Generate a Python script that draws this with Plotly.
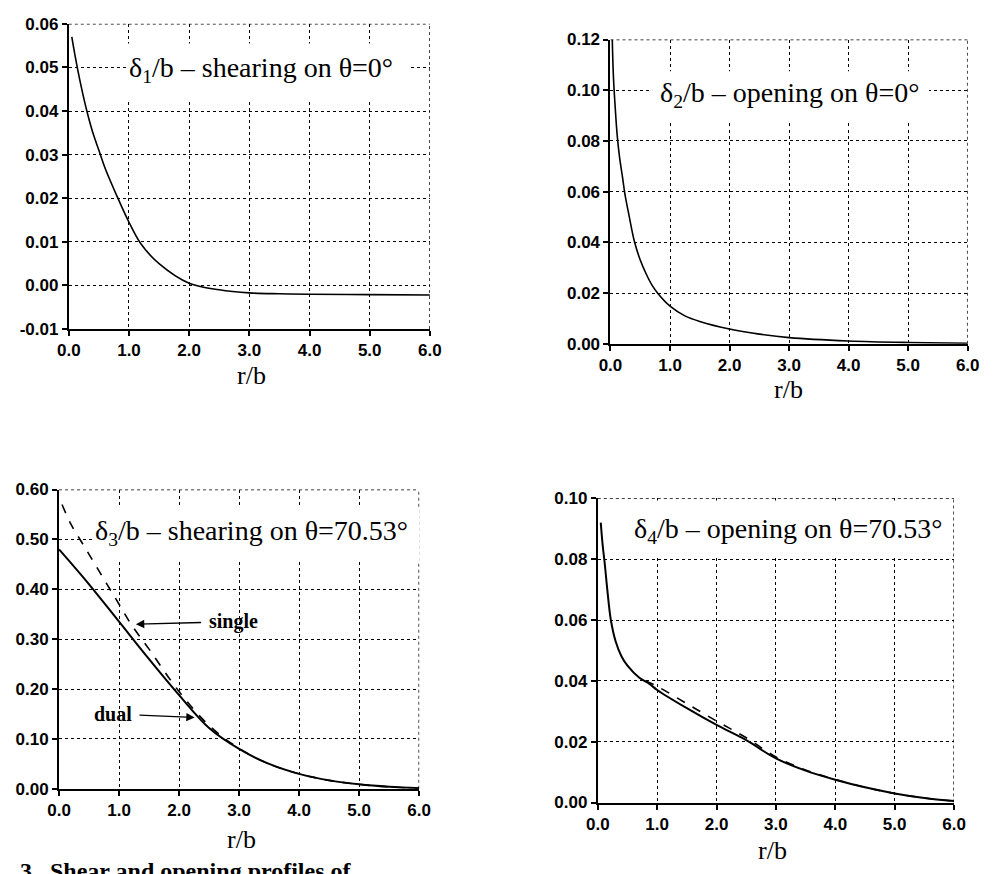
import plotly.graph_objects as go

# ---------------- data ----------------
r1 = [0.05, 0.1, 0.2, 0.3, 0.4, 0.5, 0.6, 0.8, 1.0, 1.2, 1.5, 2.0, 2.5, 3.0, 3.5, 4.0, 5.0, 6.0]
d1 = [0.057, 0.053, 0.046, 0.040, 0.035, 0.031, 0.027, 0.0205, 0.0145, 0.0095, 0.005, 0.0005,
      -0.001, -0.0017, -0.0019, -0.002, -0.0021, -0.0022]

r2 = [0.03, 0.05, 0.08, 0.11, 0.15, 0.2, 0.25, 0.3, 0.4, 0.5, 0.6, 0.7, 0.8, 1.0, 1.25, 1.5,
      2.0, 2.5, 3.0, 4.0, 5.0, 6.0]
d2 = [0.12, 0.105, 0.093, 0.083, 0.074, 0.066, 0.058, 0.052, 0.0405, 0.033, 0.0275, 0.023,
      0.0197, 0.0148, 0.011, 0.0088, 0.0058, 0.0038, 0.0024, 0.0011, 0.0005, 0.0002]

r3_dual = [0.0, 0.5, 1.0, 1.5, 2.0, 2.5, 3.0, 3.5, 4.0, 4.5, 5.0, 5.5, 6.0]
d3_dual = [0.48, 0.41, 0.335, 0.26, 0.188, 0.122, 0.08, 0.05, 0.03, 0.017, 0.009, 0.004, 0.001]
r3_single = [0.05, 0.2, 0.4, 0.6, 0.8, 1.0, 1.2, 1.5, 2.0, 2.5, 3.0, 3.5, 4.0, 4.5, 5.0, 5.5, 6.0]
d3_single = [0.57, 0.53, 0.49, 0.45, 0.41, 0.37, 0.33, 0.28, 0.195, 0.127, 0.081, 0.05, 0.03,
             0.017, 0.009, 0.004, 0.001]

r4_dual = [0.05, 0.08, 0.12, 0.16, 0.22, 0.3, 0.4, 0.5, 0.7, 0.87, 1.0, 1.5, 2.0, 2.5, 3.0,
           3.5, 4.0, 4.5, 5.0, 5.5, 6.0]
d4_dual = [0.092, 0.085, 0.078, 0.07, 0.06, 0.053, 0.048, 0.045, 0.041, 0.039, 0.037, 0.031,
           0.0255, 0.0205, 0.0145, 0.0105, 0.0075, 0.005, 0.003, 0.0015, 0.0005]
r4_single = [0.8, 1.0, 1.5, 2.0, 2.5, 3.0, 3.5, 4.0, 4.5, 5.0, 5.5, 6.0]
d4_single = [0.0400, 0.0382, 0.0325, 0.0268, 0.0213, 0.0150, 0.0107, 0.0076, 0.005, 0.003, 0.0015, 0.0005]

x_ticks = [0, 1, 2, 3, 4, 5, 6]
y1_ticks = [-0.01, 0.0, 0.01, 0.02, 0.03, 0.04, 0.05, 0.06]
y2_ticks = [0.0, 0.02, 0.04, 0.06, 0.08, 0.10, 0.12]
y3_ticks = [0.0, 0.1, 0.2, 0.3, 0.4, 0.5, 0.6]
y4_ticks = [0.0, 0.02, 0.04, 0.06, 0.08, 0.10]

titles = ["δ<sub>1</sub>/b – shearing on θ=0°",
          "δ<sub>2</sub>/b – opening on θ=0°",
          "δ<sub>3</sub>/b – shearing on θ=70.53°",
          "δ<sub>4</sub>/b – opening on θ=70.53°"]
x_title = "r/b"
caption = "3.  Shear and opening profiles of"

# ---------------- figure ----------------
W, H = 1000, 874
OFF = 8  # page body margin added by the browser

fig = go.Figure()

def px_x(a, b):
    return [(a - OFF) / W, (b - OFF) / W]

def px_y(top, bottom):
    return [1 - (bottom - OFF) / H, 1 - (top - OFF) / H]

def pxx(a):
    return (a - OFF) / W

def pxy(a):
    return 1 - (a - OFF) / H

panels = [
    dict(xd=px_x(58, 428), yd=px_y(15, 327), yr=[-0.01, 0.06], yt=y1_ticks),
    dict(xd=px_x(613, 979), yd=px_y(31, 342), yr=[0.0, 0.12], yt=y2_ticks),
    dict(xd=px_x(48, 417), yd=px_y(491, 797), yr=[0.0, 0.6], yt=y3_ticks),
    dict(xd=px_x(600, 965), yd=px_y(500, 811), yr=[0.0, 0.10], yt=y4_ticks),
]

tickfont = dict(family="Liberation Sans", size=17, color="black", weight="bold")
axis_common = dict(showgrid=True, gridcolor="black", griddash="dot", gridwidth=1.4,
                   showline=True, linecolor="black", linewidth=2, ticks="outside",
                   ticklen=5, tickcolor="black", tickwidth=1.5, tickfont=tickfont,
                   zeroline=False, fixedrange=True)
for i, p in enumerate(panels):
    n = "" if i == 0 else str(i + 1)
    fig.layout["xaxis" + n] = dict(domain=p["xd"], anchor="y" + n, range=[0, 6], tickvals=x_ticks,
                                   ticktext=[f"{v:.1f}" for v in x_ticks], **axis_common)
    fig.layout["yaxis" + n] = dict(domain=p["yd"], anchor="x" + n, range=p["yr"], tickvals=p["yt"],
                                   ticktext=[f"{v:.2f}" for v in p["yt"]], **axis_common)
    xr = "x" + n
    yr = "y" + n
    y0, y1 = p["yr"]
    # dotted top and right frame
    fig.add_shape(type="line", xref=xr, yref=yr, x0=0, x1=6, y0=y1, y1=y1,
                  line=dict(color="black", width=1.4, dash="dot"), layer="between")
    fig.add_shape(type="line", xref=xr, yref=yr, x0=6, x1=6, y0=y0, y1=y1,
                  line=dict(color="black", width=1.4, dash="dot"), layer="between")

line_solid = dict(color="black", width=1.6)
line_dash = dict(color="black", width=1.6, dash="dash")
fig.add_trace(go.Scatter(x=r1, y=d1, mode="lines", line=line_solid, xaxis="x", yaxis="y", line_shape="spline"))
fig.add_trace(go.Scatter(x=r2, y=d2, mode="lines", line=line_solid, xaxis="x2", yaxis="y2", line_shape="spline"))
fig.add_trace(go.Scatter(x=r3_single, y=d3_single, mode="lines", line=line_dash, xaxis="x3", yaxis="y3", line_shape="spline"))
fig.add_trace(go.Scatter(x=r3_dual, y=d3_dual, mode="lines", line=dict(color="black", width=2), xaxis="x3", yaxis="y3", line_shape="spline"))
fig.add_trace(go.Scatter(x=r4_single, y=d4_single, mode="lines", line=line_dash, xaxis="x4", yaxis="y4", line_shape="spline"))
fig.add_trace(go.Scatter(x=r4_dual, y=d4_dual, mode="lines", line=dict(color="black", width=2), xaxis="x4", yaxis="y4", line_shape="spline"))

# white boxes behind the panel titles (hide grid)
boxes = [
    ("x", "y", 0.95, 5.65, 0.0425, 0.0555),
    ("x2", "y2", 0.70, 5.35, 0.0875, 0.1075),
    ("x3", "y3", 0.55, 6.02, 0.455, 0.565),
    ("x4", "y4", 0.15, 5.97, 0.0805, 0.0993),
]
for xr, yr, x0, x1, y0, y1 in boxes:
    fig.add_shape(type="rect", xref=xr, yref=yr, x0=x0, x1=x1, y0=y0, y1=y1,
                  fillcolor="white", line=dict(width=0), layer="between")

title_pos = [("x", "y", 3.2, 0.0495), ("x2", "y2", 3.0, 0.0985),
             ("x3", "y3", 3.2, 0.513), ("x4", "y4", 3.2, 0.0895)]
titlefont = dict(family="Liberation Serif", size=28, color="black")
for (xr, yr, x, y), t in zip(title_pos, titles):
    fig.add_annotation(xref=xr, yref=yr, x=x, y=y, text=t, showarrow=False, font=titlefont,
                       xanchor="center", yanchor="middle")

# x-axis titles
for xc, yc in [(245, 374), (795, 389), (235, 849), (779, 860)]:
    fig.add_annotation(xref="paper", yref="paper", x=pxx(xc), y=pxy(yc), text=x_title,
                       xanchor="center", yanchor="middle", showarrow=False,
                       font=dict(family="Liberation Serif", size=26, color="black"))

# single / dual labels with arrows
lblfont = dict(family="Liberation Serif", size=20, color="black", weight="bold")
fig.add_annotation(xref="x3", yref="y3", axref="x3", ayref="y3", x=1.28, y=0.33, ax=2.9, ay=0.335,
                   text="single", font=lblfont, showarrow=True, arrowhead=2, arrowsize=1.2,
                   arrowwidth=1.4, arrowcolor="black", standoff=0, startstandoff=6)
fig.add_annotation(xref="x3", yref="y3", axref="x3", ayref="y3", x=2.26, y=0.143, ax=0.9, ay=0.15,
                   text="dual", font=lblfont, showarrow=True, arrowhead=2, arrowsize=1.2,
                   arrowwidth=1.4, arrowcolor="black", standoff=0, startstandoff=6)

# caption (cut off at the page bottom, as in the scan)
fig.add_annotation(xref="paper", yref="paper", x=pxx(6), y=pxy(881), xanchor="left", yanchor="middle",
                   text=caption, showarrow=False,
                   font=dict(family="Liberation Serif", size=24, color="black", weight="bold"))

fig.update_layout(width=W, height=H, margin=dict(l=0, r=0, t=0, b=0),
                  paper_bgcolor="white", plot_bgcolor="white", showlegend=False)

fig.write_html("out.html")
